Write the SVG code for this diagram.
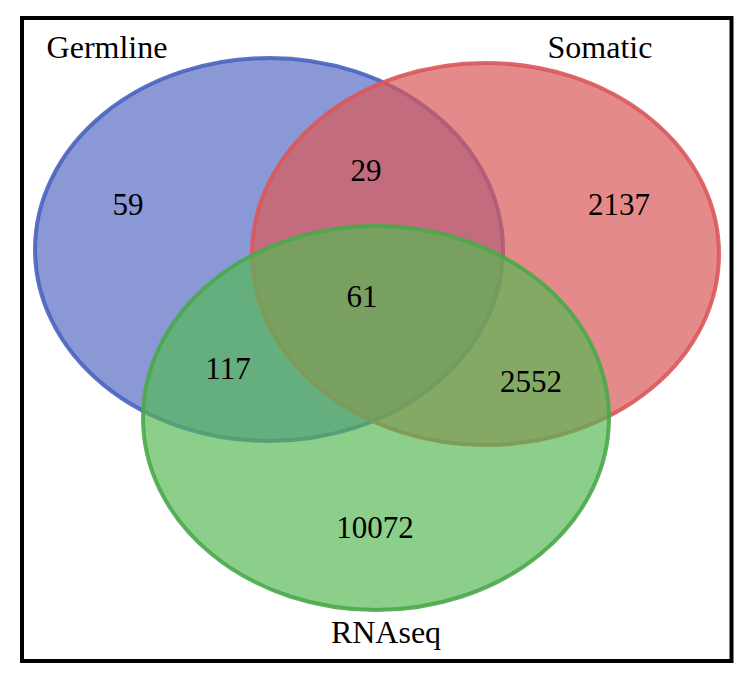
<svg xmlns="http://www.w3.org/2000/svg" width="754" height="685" viewBox="0 0 754 685">
<style>
.set{stroke-width:4}
#germline ellipse{fill:#586dc3;fill-opacity:0.7;stroke:#4a63c0;stroke-opacity:0.9}
#somatic ellipse{fill:#da5858;fill-opacity:0.7;stroke:#d9585a;stroke-opacity:0.9}
#rnaseq ellipse{fill:#54b854;fill-opacity:0.68;stroke:#4aa84a;stroke-opacity:0.9}
.lab{font-size:32px}
.num{font-size:31px}
</style>
<rect x="22" y="18" width="709.5" height="643" fill="#fff" stroke="#000" stroke-width="4"/>
<g id="germline"><ellipse class="set" cx="269" cy="249.5" rx="234" ry="191.5"/></g>
<g id="somatic"><ellipse class="set" cx="485.5" cy="254" rx="233.5" ry="191"/></g>
<g id="rnaseq"><ellipse class="set" cx="376" cy="418" rx="233" ry="192"/></g>
<g id="connectors"></g>
<g id="labels" font-family="'Liberation Serif', 'DejaVu Serif', serif" fill="#000" text-anchor="middle">
<text class="lab" x="107" y="58">Germline</text>
<text class="lab" x="600" y="58">Somatic</text>
<text class="lab" x="386" y="643">RNAseq</text>
<text class="num" x="128" y="215">59</text>
<text class="num" x="366" y="181">29</text>
<text class="num" x="619" y="215">2137</text>
<text class="num" x="362" y="307">61</text>
<text class="num" x="228" y="379">117</text>
<text class="num" x="531" y="392">2552</text>
<text class="num" x="375" y="538">10072</text>
</g>
</svg>
